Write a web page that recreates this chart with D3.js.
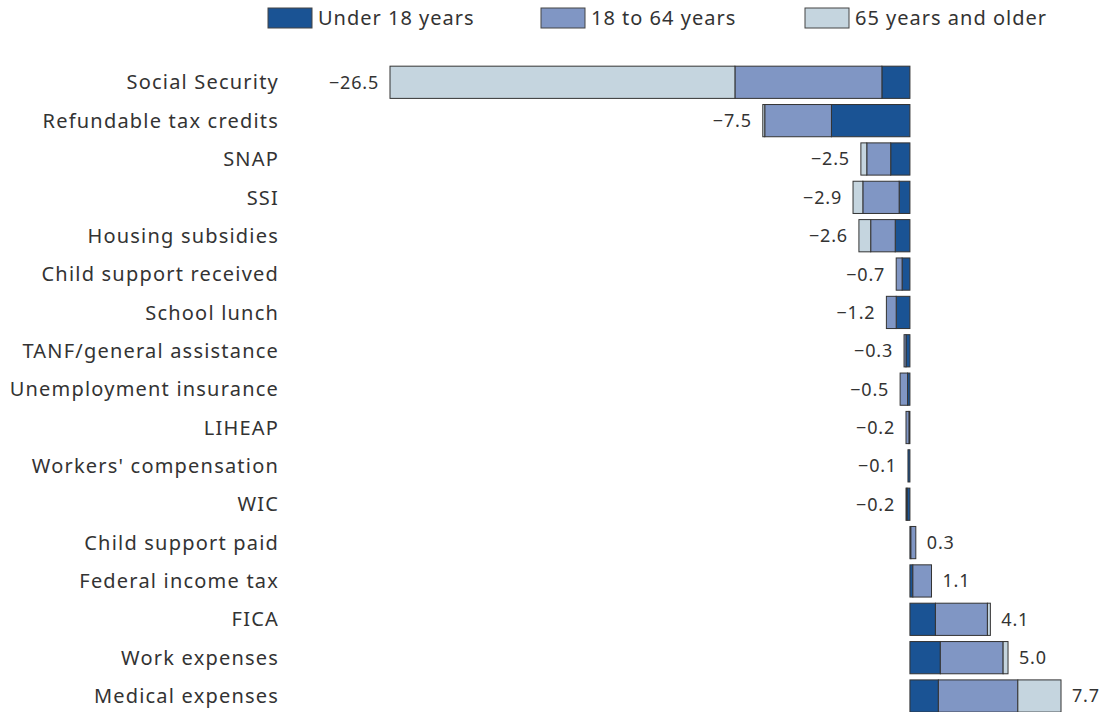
<!DOCTYPE html>
<html>
<head>
<meta charset="utf-8">
<script src="https://cdn.jsdelivr.net/npm/d3@7"></script>
<style>
    html, body { margin: 0; padding: 0; background: #fff; }
    svg { display: block; }
    text { font-family: "Noto Sans", sans-serif; fill: #333; }
</style>
</head>
<body>
<div id="root"></div>
<script>
// 데이터 (값은 그림에서 읽은 추정치)
const categories = [
    "Social Security", "Refundable tax credits", "SNAP", "SSI", "Housing subsidies",
    "Child support received", "School lunch", "TANF/general assistance",
    "Unemployment insurance", "LIHEAP", "Workers' compensation", "WIC",
    "Child support paid", "Federal income tax", "FICA", "Work expenses", "Medical expenses"
];
const seriesNames = ["Under 18 years", "18 to 64 years", "65 years and older"];
const under18 = [-1.43, -4.0, -0.98, -0.55, -0.75, -0.4, -0.7, -0.2, -0.12, -0.05, -0.1, -0.15, 0.05, 0.15, 1.3, 1.55, 1.45];
const age18to64 = [-7.49, -3.4, -1.22, -1.85, -1.25, -0.3, -0.5, -0.1, -0.38, -0.15, 0, -0.05, 0.25, 0.95, 2.65, 3.2, 4.05];
const age65plus = [-17.58, -0.1, -0.3, -0.5, -0.6, 0, 0, 0, 0, 0, 0, 0, 0, 0, 0.15, 0.25, 2.2];
const totals = [-26.5, -7.5, -2.5, -2.9, -2.6, -0.7, -1.2, -0.3, -0.5, -0.2, -0.1, -0.2, 0.3, 1.1, 4.1, 5.0, 7.7];
const colors = ["#1a5394", "#8096c4", "#c5d5df"];

const width = 1101, height = 712;

const svg = d3.select("#root").append("svg")
    .attr("width", width)
    .attr("height", height);

// x 스케일: 0 이 x=910 근처
const x = d3.scaleLinear().domain([-26.5, 7.7]).range([390, 1061]);
const y = d3.scaleBand().domain(categories)
    .range([63.1, 715.2])
    .paddingInner(0.16)
    .paddingOuter(0.08);

// 스택 데이터 (0 에서 바깥쪽으로 Under 18 -> 18-64 -> 65+)
const series = [under18, age18to64, age65plus];
const rows = categories.map((c, i) => {
    let acc = 0;
    const segs = series.map((s, k) => {
        const v = s[i];
        const seg = { k: k, x0: acc, x1: acc + v };
        acc += v;
        return seg;
    }).filter(d => d.x1 !== d.x0);
    return { name: c, total: totals[i], segs: segs };
});

const g = svg.append("g");

const row = g.selectAll("g.row").data(rows).join("g")
    .attr("class", "row")
    .attr("transform", d => `translate(0,${y(d.name)})`);

row.selectAll("rect").data(d => d.segs).join("rect")
    .attr("x", d => x(Math.min(d.x0, d.x1)))
    .attr("width", d => Math.abs(x(d.x1) - x(d.x0)))
    .attr("y", 0)
    .attr("height", y.bandwidth())
    .attr("fill", d => colors[d.k])
    .attr("stroke", "#333")
    .attr("stroke-width", 1);

// 카테고리 라벨
row.append("text")
    .attr("x", 279)
    .attr("y", y.bandwidth() / 2)
    .attr("dy", "0.36em")
    .attr("text-anchor", "end")
    .style("font-size", "20px")
    .style("letter-spacing", "1.2px")
    .text(d => d.name);

// 값 라벨
const fmt = v => (v < 0 ? "\u2212" : "") + Math.abs(v).toFixed(1);
row.append("text")
    .attr("x", d => d.total < 0 ? x(d.total) - 11 : x(d.total) + 11)
    .attr("y", y.bandwidth() / 2)
    .attr("dy", "0.36em")
    .attr("text-anchor", d => d.total < 0 ? "end" : "start")
    .style("font-size", "18px")
    .style("letter-spacing", "0.8px")
    .text(d => fmt(d.total));

// 범례
const legendX = [268, 541, 805];
const legend = svg.append("g").selectAll("g").data(seriesNames).join("g")
    .attr("transform", (d, i) => `translate(${legendX[i]},8)`);
legend.append("rect")
    .attr("width", 44).attr("height", 20)
    .attr("fill", (d, i) => colors[i])
    .attr("stroke", "#444").attr("stroke-width", 1);
legend.append("text")
    .attr("x", 50).attr("y", 10).attr("dy", "0.36em")
    .style("font-size", "20px")
    .style("letter-spacing", "1px")
    .text(d => d);
</script>
</body>
</html>
